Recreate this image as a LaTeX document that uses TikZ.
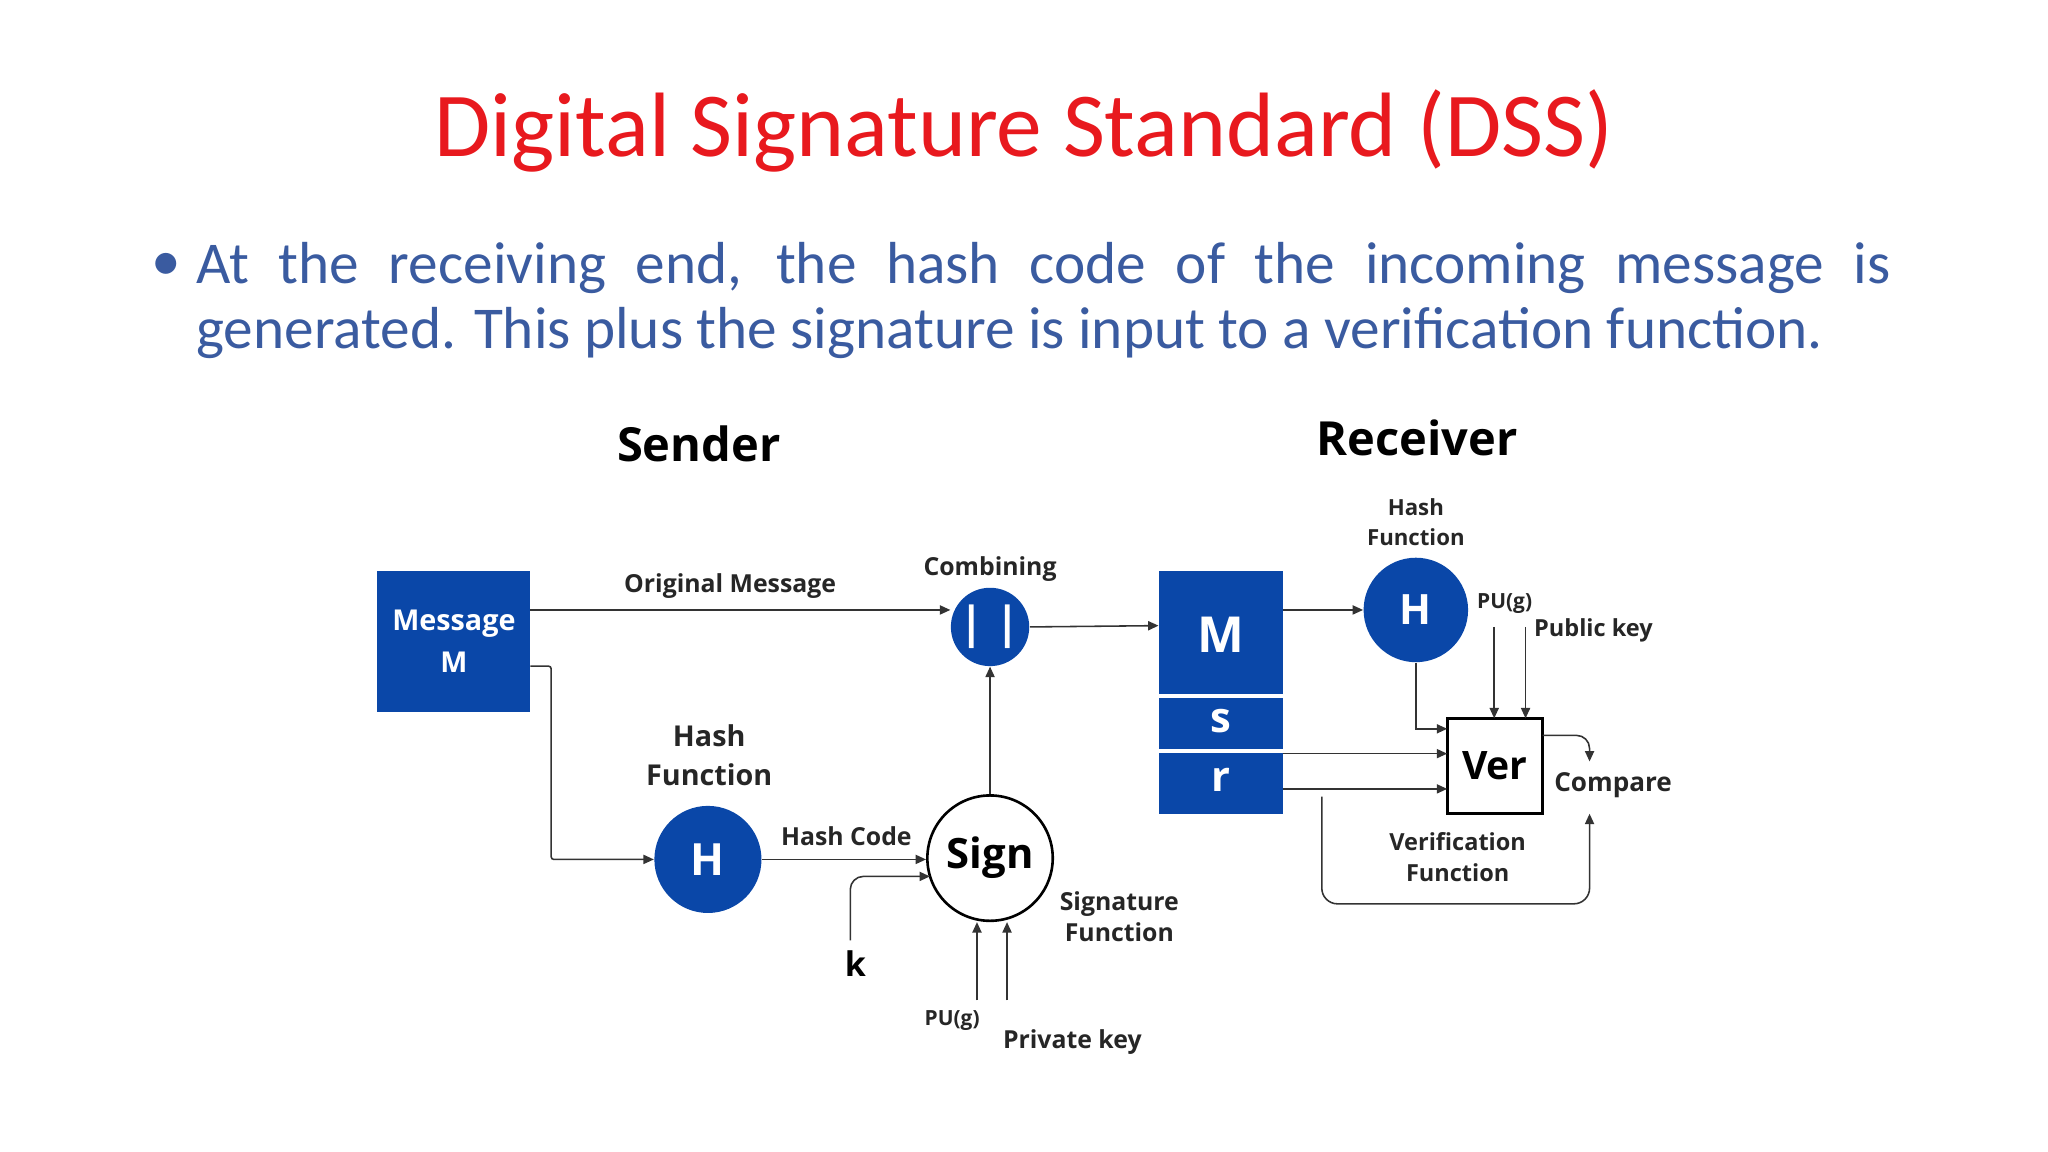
\documentclass[tikz,border=0pt]{standalone}
\usepackage{fontspec}
\setmainfont{Open Sans}
\newfontfamily\calib{Carlito}
\usetikzlibrary{arrows.meta}
\definecolor{dblue}{HTML}{0A47A8}
\definecolor{tblue}{HTML}{3A5BA0}
\definecolor{tred}{HTML}{E8191E}
\begin{document}
\begin{tikzpicture}[x=0.5pt,y=-0.5pt,
  con/.style={draw=black!80,line width=0.6pt,-{Triangle[length=4pt,width=3.5pt]}},
  lbl/.style={font=\bfseries\fontsize{9.5}{12}\selectfont,align=center,text=black!85},
  bcirc/.style={circle,fill=dblue,text=white,font=\bfseries\fontsize{17}{20}\selectfont,inner sep=0pt}]
\useasboundingbox (0,0) rectangle (1568,882);
\node[text=tred,font=\calib\fontsize{35}{40}\selectfont] (title) at (784,100) {Digital Signature Standard (DSS)};
\node[text=tblue,font=\calib\fontsize{22.7}{25}\selectfont,anchor=north west,inner sep=0pt,text width=648.5pt,align=justify] (bul) at (150,185) {At the receiving end, the hash code of the incoming message is\linebreak generated. This plus the signature is input to a verification function.};
\node[text=tblue,font=\calib\fontsize{22.7}{25}\selectfont] (dot) at (127,204) {•};
\node[font=\bfseries\fontsize{18}{22}\selectfont] (snd) at (535,340) {Sender};
\node[font=\bfseries\fontsize{18}{22}\selectfont] (rcv) at (1085,335) {Receiver};
% sender
\node[fill=dblue,text=white,minimum width=58.5pt,minimum height=54pt,inner sep=0pt,font=\bfseries\fontsize{11}{16}\selectfont,align=center] (msg) at (347.5,491) {Message\\M};
\node[lbl] (om) at (559,449) {Original Message};
\node[bcirc,minimum size=30pt] (comb) at (758,480) {| |};
\node[lbl] (cb) at (758,436) {Combining};
\node[bcirc,minimum size=41pt] (h1) at (542,658) {H};
\node[lbl,font=\bfseries\fontsize{11}{15}\selectfont] (hf1) at (543,578) {Hash\\Function};
\node[circle,draw=black,line width=1pt,minimum size=48pt,inner sep=0pt,font=\bfseries\fontsize{16}{20}\selectfont] (sign) at (758,657) {Sign};
\node[lbl] (hc) at (648,640) {Hash Code};
\node[font=\bfseries\fontsize{13}{16}\selectfont] (k) at (655,738) {k};
\coordinate (kt) at (651,720);
\coordinate (pu1) at (748,766);
\coordinate (pk1) at (771,766);
\node[lbl,font=\bfseries\fontsize{8}{10}\selectfont] (pul) at (729,781) {PU(g)};
\node[lbl] (pkl) at (821,798) {Private key};
\node[lbl] (sf) at (857,702) {Signature\\Function};
\draw[con] (406,467) -- (comb.west |- 0,467);
\draw[con,rounded corners=1pt] (406,510) -- (422,510) -- (422,658) -- (h1.west);
\draw[con] (h1.east) -- (sign.west |- 0,658);
\draw[con,rounded corners=5pt] (kt) -- (651,671) -- (712,671);
\draw[con] (sign.north) -- (comb.south);
\draw[con] (pu1) -- (748,706);
\draw[con] (pk1) -- (771,706);
% receiver
\fill[dblue] (887,437) rectangle (982,623);
\draw[white,line width=1.5pt] (887,533) -- (982,533) (887,575) -- (982,575);
\node[text=white,font=\bfseries\fontsize{19}{22}\selectfont] (rm) at (935,486) {M};
\node[text=white,font=\bfseries\fontsize{16}{20}\selectfont] (rs) at (935,552) {s};
\node[text=white,font=\bfseries\fontsize{16}{20}\selectfont] (rr) at (935,597) {r};
\coordinate (rbox) at (887,479);
\draw[con] (comb.east) -- (rbox);
\node[bcirc,minimum size=40pt,font=\bfseries\fontsize{16}{20}\selectfont] (h2) at (1084,467) {H};
\node[lbl,font=\bfseries\fontsize{8.5}{11.5}\selectfont] (hf2) at (1084,400) {Hash\\Function};
\node[draw=black,line width=1pt,minimum size=36.5pt,inner sep=0pt,font=\bfseries\fontsize{15}{18}\selectfont] (ver) at (1144.5,586.5) {Ver};
\node[lbl,font=\bfseries\fontsize{8}{10}\selectfont] (pu2l) at (1152,462) {PU(g)};
\node[lbl,font=\bfseries\fontsize{9}{11}\selectfont] (pk2l) at (1220,483) {Public key};
\node[lbl,font=\bfseries\fontsize{10}{12}\selectfont] (cmp) at (1235,601) {Compare};
\node[lbl,font=\bfseries\fontsize{9}{12}\selectfont] (vf) at (1116,656) {Verification\\Function};
\draw[con] (982,467) -- (h2.west);
\draw[con] (h2.south) |- (1108,558);
\draw[con] (1144,480) -- (1144,550);
\draw[con] (1168,480) -- (1168,550);
\draw[con] (982,577) -- (1108,577);
\draw[con] (982,604) -- (1108,604);
\draw[con,rounded corners=5pt] (1181,563) -- (1217,563) -- (1217,583);
\draw[con,rounded corners=6pt] (1012,610) -- (1012,692) -- (1217,692) -- (1217,623);
\end{tikzpicture}
\end{document}
